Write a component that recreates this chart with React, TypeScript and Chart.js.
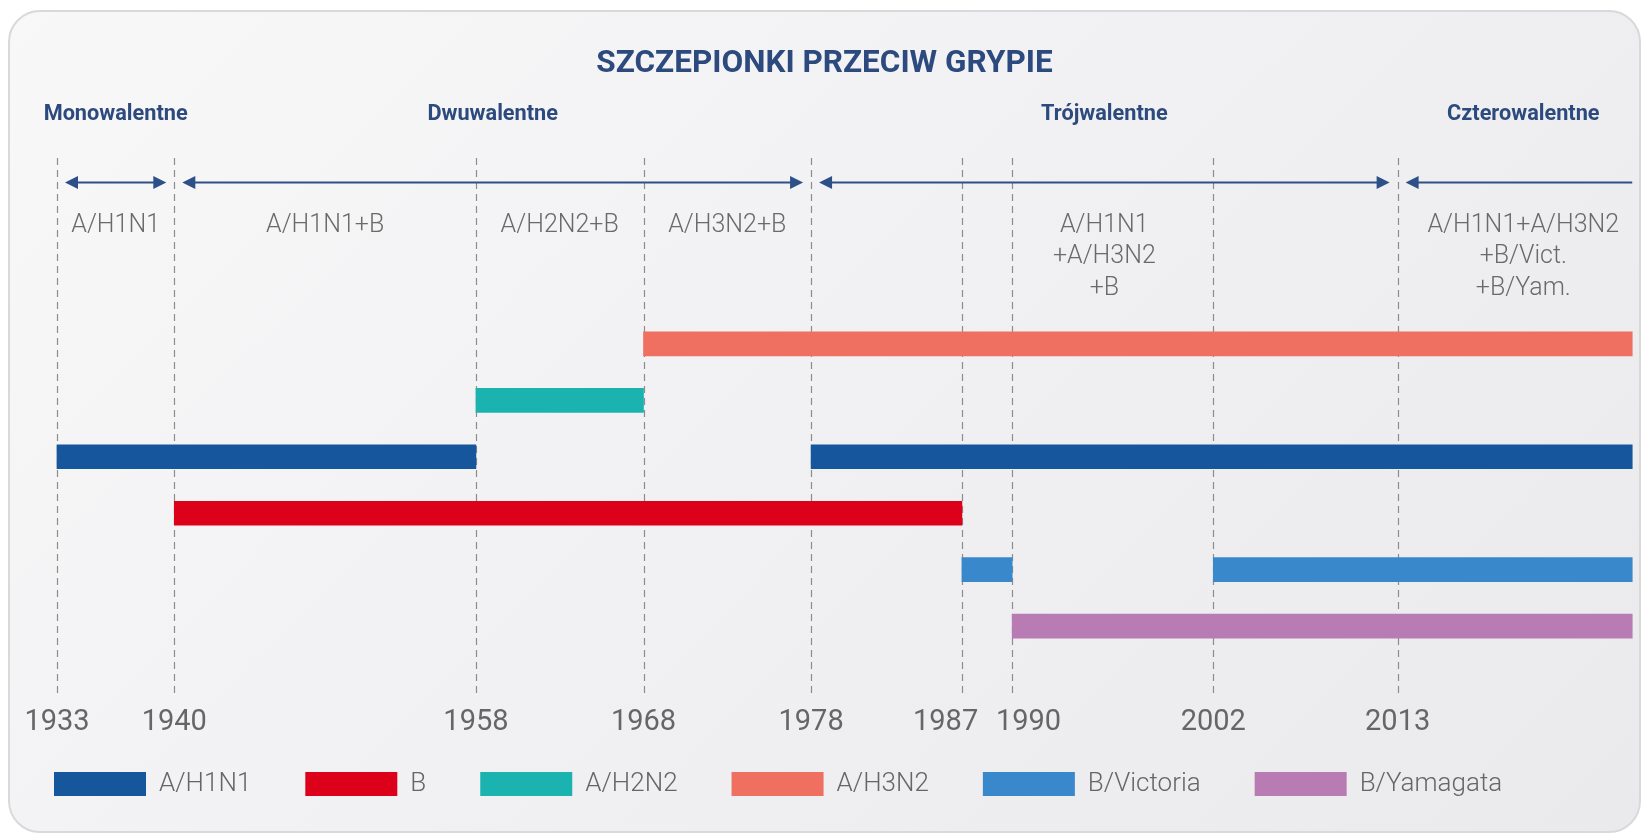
import React, { useEffect, useRef } from 'react';
import { Chart, registerables } from 'chart.js';

Chart.register(...registerables);

// ---- data ----
const ROWS = ['A/H3N2', 'A/H2N2', 'A/H1N1', 'B', 'B/Victoria', 'B/Yamagata'];
const STRAINS = ['A/H1N1', 'B', 'A/H2N2', 'A/H3N2', 'B/Victoria', 'B/Yamagata'];
const STRAIN_COLORS = ['#15569c', '#dc001a', '#1ab3b0', '#ef7060', '#3888cb', '#b87bb4'];

const END = 2027;
const H1N1_SPANS = [[1933, 1958], [1978, END]];
const B_SPANS = [[1940, 1987]];
const H2N2_SPANS = [[1958, 1968]];
const H3N2_SPANS = [[1968, END]];
const VICTORIA_SPANS = [[1987, 1990], [2002, END]];
const YAMAGATA_SPANS = [[1990, END]];
const STRAIN_SPANS = [H1N1_SPANS, B_SPANS, H2N2_SPANS, H3N2_SPANS, VICTORIA_SPANS, YAMAGATA_SPANS];

const TICK_YEARS = [1933, 1940, 1958, 1968, 1978, 1987, 1990, 2002, 2013];
const X_MIN = 1929.6;
const X_MAX = 2028;

const GROUP_NAMES = ['Monowalentne', 'Dwuwalentne', 'Trójwalentne', 'Czterowalentne'];
const GROUP_FROM = [1933, 1940, 1978, 2013];
const GROUP_TO = [1940, 1978, 2013, X_MAX];

const PERIOD_FROM = [1933, 1940, 1958, 1968, 1978, 2013];
const PERIOD_TO = [1940, 1958, 1968, 1978, 2013, X_MAX];
const PERIOD_LINES = [
  ['A/H1N1'],
  ['A/H1N1+B'],
  ['A/H2N2+B'],
  ['A/H3N2+B'],
  ['A/H1N1', '+A/H3N2', '+B'],
  ['A/H1N1+A/H3N2', '+B/Vict.', '+B/Yam.'],
];

const TITLE = 'SZCZEPIONKI PRZECIW GRYPIE';

// ---- styles ----
const NAVY = '#2c4a7e';
const ARROW = '#2e5088';
const GRAY_TEXT = '#6a6a6a';
const FIG = '\u2007';

function tickText(v: number, i: number) {
  // two close labels are pushed apart a little, as in the original design
  const prev = TICK_YEARS[i - 1];
  const next = TICK_YEARS[i + 1];
  if (next !== undefined && next - v <= 3) return String(v) + FIG + FIG;
  if (prev !== undefined && v - prev <= 3) return FIG + FIG + String(v);
  return String(v);
}

const decor = {
  id: 'decor',
  beforeDatasetsDraw(chart: any) {
    const { ctx, chartArea, scales } = chart;
    const x = scales.x;
    ctx.save();
    ctx.strokeStyle = '#8d8d8d';
    ctx.lineWidth = 1.2;
    ctx.setLineDash([7, 5]);
    TICK_YEARS.forEach((yr) => {
      const px = Math.round(x.getPixelForValue(yr)) + 0.5;
      ctx.beginPath();
      ctx.moveTo(px, 158);
      ctx.lineTo(px, chartArea.bottom + 43);
      ctx.stroke();
    });
    ctx.restore();
  },
  afterDraw(chart: any) {
    const { ctx, scales } = chart;
    const x = scales.x;
    ctx.save();
    // group names
    ctx.fillStyle = NAVY;
    ctx.font = 'bold 21.7px Roboto';
    ctx.textAlign = 'center';
    ctx.textBaseline = 'middle';
    GROUP_NAMES.forEach((name, i) => {
      const cx = (x.getPixelForValue(GROUP_FROM[i]) + x.getPixelForValue(GROUP_TO[i])) / 2;
      ctx.fillText(name, cx, 115);
    });
    // arrows
    const ay = 182.5;
    const gap = 8;
    ctx.strokeStyle = ARROW;
    ctx.fillStyle = ARROW;
    ctx.lineWidth = 2.2;
    GROUP_FROM.forEach((from, i) => {
      const to = GROUP_TO[i];
      const x1 = x.getPixelForValue(from) + gap;
      const x2 = Math.min(x.getPixelForValue(to) - gap, x.getPixelForValue(END));
      ctx.beginPath();
      ctx.moveTo(x1 + 4, ay);
      ctx.lineTo(to <= END ? x2 - 4 : x2, ay);
      ctx.stroke();
      ctx.beginPath();
      ctx.moveTo(x1, ay);
      ctx.lineTo(x1 + 13, ay - 6.5);
      ctx.lineTo(x1 + 13, ay + 6.5);
      ctx.closePath();
      ctx.fill();
      if (to <= END) {
        ctx.beginPath();
        ctx.moveTo(x2, ay);
        ctx.lineTo(x2 - 13, ay - 6.5);
        ctx.lineTo(x2 - 13, ay + 6.5);
        ctx.closePath();
        ctx.fill();
      }
    });
    // period labels
    ctx.fillStyle = GRAY_TEXT;
    ctx.font = '300 25px Roboto';
    PERIOD_LINES.forEach((lines, i) => {
      const cx = (x.getPixelForValue(PERIOD_FROM[i]) + x.getPixelForValue(PERIOD_TO[i])) / 2;
      lines.forEach((t, k) => ctx.fillText(t, cx, 225.5 + k * 31.5));
    });
    ctx.restore();
  },
};

export default function App() {
  const ref = useRef<HTMLCanvasElement>(null);
  useEffect(() => {
    if (!ref.current) return;
    const chart = new Chart(ref.current, {
      type: 'bar',
      data: {
        labels: ROWS,
        datasets: STRAINS.map((s, i) => ({
          label: s,
          data: STRAIN_SPANS[i].map((sp) => ({ x: sp, y: s })) as any,
          backgroundColor: STRAIN_COLORS[i],
          borderWidth: 0,
          borderSkipped: false,
          barThickness: 24,
          grouped: false,
        })),
      },
      options: {
        indexAxis: 'y',
        responsive: false,
        animation: false,
        events: [],
        layout: { padding: { top: 0, left: 0, right: 0, bottom: 30 } },
        scales: {
          x: {
            type: 'linear',
            min: X_MIN,
            max: X_MAX,
            grid: { display: false, drawTicks: false },
            border: { display: false },
            afterBuildTicks: (s: any) => {
              s.ticks = TICK_YEARS.map((v) => ({ value: v }));
            },
            afterFit: (s: any) => {
              s.height = 62.65;
            },
            ticks: {
              autoSkip: false,
              maxRotation: 0,
              mirror: true,
              padding: -85.8,
              color: '#666666',
              font: { family: 'Roboto', size: 29 },
              callback: (v: any, i: number) => tickText(Number(v), i),
            },
          },
          y: { type: 'category', display: false, offset: true },
        },
        plugins: {
          tooltip: { enabled: false },
          title: {
            display: true,
            text: TITLE,
            color: NAVY,
            font: { family: 'Roboto', size: 31.5, weight: 'bold' },
            padding: { top: 45.6, bottom: 232.25 },
          },
          legend: {
            position: 'bottom',
            align: 'start',
            labels: {
              boxWidth: 92,
              boxHeight: 24,
              padding: 54,
              color: '#666666',
              font: { family: 'Roboto', size: 26, weight: '300' },
            },
          },
        },
      },
      plugins: [decor],
    });
    return () => chart.destroy();
  }, []);

  return (
    <div style={{ position: 'absolute', left: 0, top: 0, width: 1649, height: 837, background: '#ffffff', overflow: 'hidden' }}>
      <div
        style={{
          position: 'absolute',
          left: 8,
          top: 10,
          width: 1633,
          height: 823,
          boxSizing: 'border-box',
          border: '2px solid #d9d9db',
          borderRadius: 32,
          background: 'linear-gradient(135deg, #f8f8f9 0%, #f0f0f2 55%, #eaeaec 100%)',
        }}
      />
      <canvas ref={ref} width={1649} height={837} style={{ position: 'absolute', left: 0, top: 0, width: 1649, height: 837 }} />
    </div>
  );
}
